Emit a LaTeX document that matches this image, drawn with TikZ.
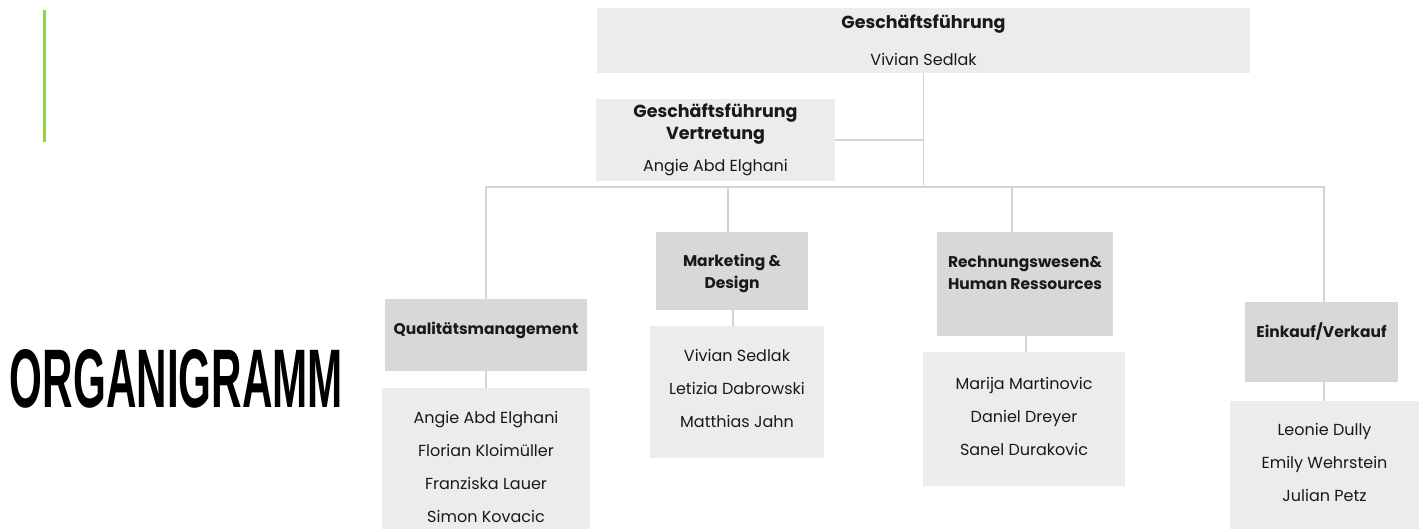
\documentclass[tikz,border=0pt]{standalone}
\usepackage{fontspec}
\setmainfont{Poppins}
\newfontfamily\titlefont{Liberation Sans}
\usetikzlibrary{positioning}
\definecolor{boxlight}{RGB}{236,236,236}
\definecolor{boxdark}{RGB}{216,216,216}
\definecolor{linegray}{RGB}{212,212,212}
\definecolor{accent}{RGB}{146,208,80}
\definecolor{ink}{RGB}{25,25,25}

\begin{document}
\begin{tikzpicture}[x=1pt,y=-1pt,
  topbox/.style={fill=boxlight, inner sep=0pt, align=center, text=ink, font=\fontsize{16}{22}\selectfont},
  deptbox/.style={fill=boxdark, inner sep=0pt},
  staffbox/.style={fill=boxlight, inner sep=0pt},
  headtxt/.style={align=center, text=ink, font=\bfseries\fontsize{15.5}{22}\selectfont},
  nametxt/.style={align=center, text=ink, font=\fontsize{16}{33}\selectfont},
  link/.style={draw=linegray, line width=1.5pt}]
\useasboundingbox (0,0) rectangle (1426,529);
%\fill[white] (0,0) rectangle (1426,529);
\draw[accent, line width=3pt] (44,10) -- (44,142);
\node[inner sep=0pt] (title) at (176.5,379) {\resizebox{333pt}{58pt}{\titlefont\bfseries ORGANIGRAMM}};

% leitung
\node[topbox, minimum width=653, minimum height=65] (gf) at (923.5,40.5) {{\bfseries\fontsize{17.5}{22}\selectfont Geschäftsführung}\\[15pt]Vivian Sedlak};
\node[topbox, minimum width=239, minimum height=82] (gfv) at (715.5,140) {{\bfseries\fontsize{17.5}{22}\selectfont Geschäftsführung}\\{\bfseries\fontsize{17.5}{22}\selectfont Vertretung}\\[10pt]Angie Abd Elghani};

% abteilungen
\node[deptbox, minimum width=202, minimum height=72, label={[headtxt, name=qmt, yshift=5pt]center:Qualitätsmanagement}] (qm) at (486,335) {};
\node[deptbox, minimum width=152, minimum height=78, label={[headtxt, name=mkt, yshift=-2pt]center:Marketing \&\\Design}] (mk) at (732,271) {};
\node[deptbox, minimum width=176, minimum height=104, label={[headtxt, name=rwt, yshift=11pt]center:Rechnungswesen\&\\Human Ressources}] (rw) at (1025,284) {};
\node[deptbox, minimum width=153, minimum height=80, label={[headtxt, name=ekt, yshift=10.5pt]center:Einkauf/Verkauf}] (ek) at (1321.5,342) {};

% mitarbeiter
\node[staffbox, minimum width=208, minimum height=157, label={[nametxt, name=qmn]center:Angie Abd Elghani\\Florian Kloimüller\\Franziska Lauer\\Simon Kovacic}] (qms) at (486,466.5) {};
\node[staffbox, minimum width=174, minimum height=132, label={[nametxt, name=mkn, yshift=4pt]center:Vivian Sedlak\\Letizia Dabrowski\\Matthias Jahn}] (mks) at (737,392) {};
\node[staffbox, minimum width=202, minimum height=134, label={[nametxt, name=rwn, yshift=3pt]center:Marija Martinovic\\Daniel Dreyer\\Sanel Durakovic}] (rws) at (1024,419) {};
\node[staffbox, minimum width=189, minimum height=144, label={[nametxt, name=ekn, yshift=10.5pt]center:Leonie Dully\\Emily Wehrstein\\Julian Petz}] (eks) at (1324.5,473) {};

\coordinate (hub) at (923.5,187);
\draw[link] (gf.south) -- (hub);
\draw[link] (gfv.east) -- (gfv.east -| hub);
\draw[link] (qm.north) -- (qm.north |- hub) -- ([xshift=2.5pt]ek.north |- hub) -- ([xshift=2.5pt]ek.north);
\draw[link] ([xshift=-4pt]mk.north) -- ([xshift=-4pt]mk.north |- hub);
\draw[link] ([xshift=-13pt]rw.north) -- ([xshift=-13pt]rw.north |- hub);
\draw[link] (qm.south) -- (qms.north);
\draw[link] ([xshift=1pt]mk.south) -- ([xshift=1pt]mk.south |- mks.north);
\draw[link] ([xshift=1pt]rw.south) -- ([xshift=1pt]rw.south |- rws.north);
\draw[link] ([xshift=2.5pt]ek.south) -- ([xshift=2.5pt]ek.south |- eks.north);
\end{tikzpicture}
\end{document}
